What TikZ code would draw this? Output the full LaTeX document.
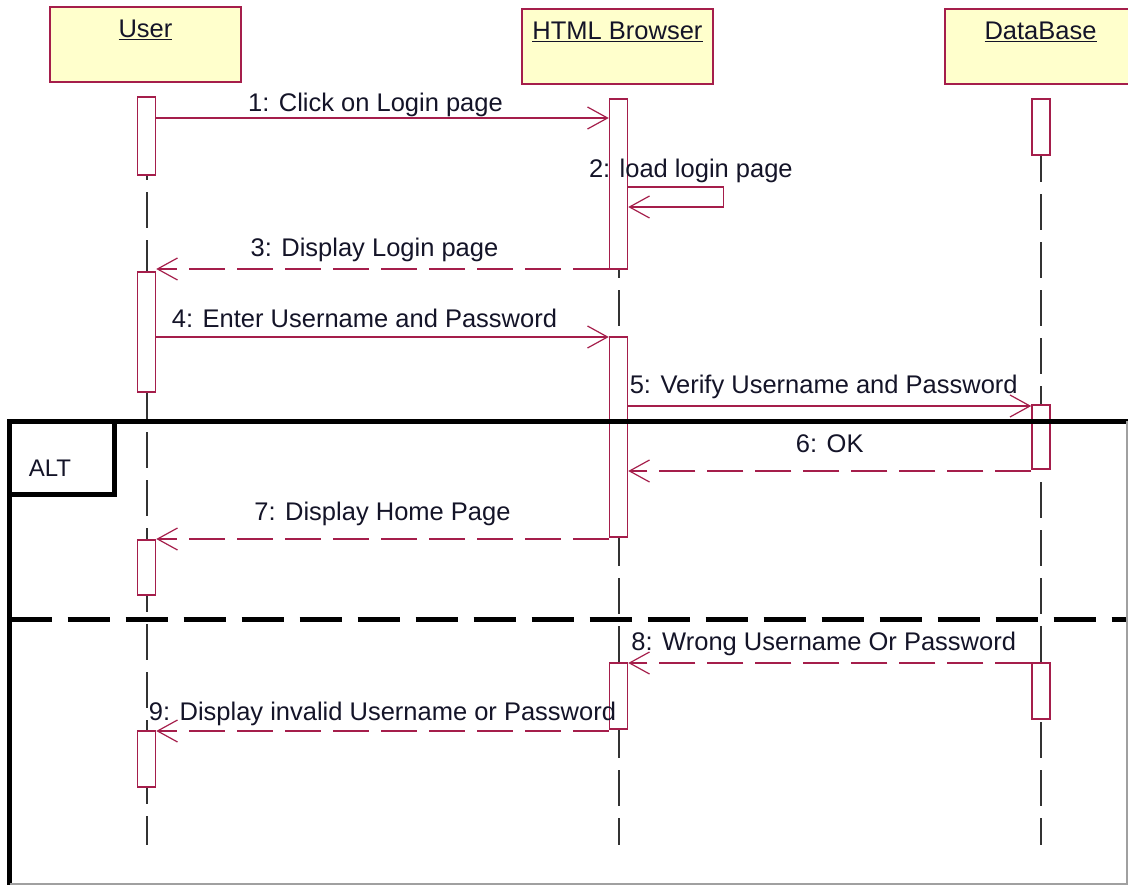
\documentclass[tikz,border=0pt]{standalone}
\usepackage{fontspec}
\setmainfont{Liberation Sans}
\usepackage{tikz}
\usetikzlibrary{positioning, arrows.meta, backgrounds}
\definecolor{lineColor}{RGB}{165, 30, 75}
\definecolor{headFill}{RGB}{255, 255, 204}
\definecolor{lifeColor}{RGB}{51, 51, 51}
\definecolor{textColor}{RGB}{20, 20, 40}
\definecolor{borderGray}{RGB}{160, 160, 160}
\tikzset{
    seq_head/.style={
        draw=lineColor,
        fill=headFill,
        line width=2pt,
        text=textColor,
        minimum width=191pt,
        inner xsep=0pt,
        inner ysep=5pt,
        text height=26pt,
        text depth=39pt,
        anchor=north
    },
    seq_bar/.style={
        draw=lineColor,
        fill=white,
        line width=1.5pt,
        minimum width=18pt,
        inner sep=0pt
    },
    seq_life/.style={
        draw=lifeColor,
        line width=2pt,
        dash pattern=on 36pt off 12pt
    },
    seq_call/.style={
        draw=lineColor,
        line width=1.5pt,
        -{Straight Barb[length=20pt, width=22pt, line width=1.2pt]}
    },
    seq_reply/.style={
        seq_call,
        dash pattern=on 36pt off 12pt
    },
    seq_text/.style={
        text=textColor,
        inner sep=0pt,
        text depth=0pt,
        above=10pt
    },
    alt_frame/.style={
        draw=black,
        line width=5pt
    }
}

\begin{document}
\begin{tikzpicture}[x=1pt, y=-1pt, font=\fontsize{25.5}{30}\selectfont]
    \useasboundingbox (0,0) rectangle (1128,885);

    % lifeline heads
    \node[seq_head] (user) at (145.5,6) {\underline{User}};
    \node[seq_head] (browser) at (617.5,8) {\underline{HTML Browser}};
    \node[seq_head] (db) at (1040.5,8) {\underline{DataBase}};

    % activation bars
    \node[seq_bar, minimum height=78pt] (u1) at (146.5,136) {};
    \node[seq_bar, minimum height=120pt] (u2) at (146.5,332) {};
    \node[seq_bar, minimum height=55pt] (u3) at (146.5,567.5) {};
    \node[seq_bar, minimum height=56pt] (u4) at (146.5,759) {};
    \node[seq_bar, minimum height=170pt] (b1) at (618.5,184) {};
    \node[seq_bar, minimum height=200pt] (b2) at (618.5,437) {};
    \node[seq_bar, minimum height=66pt] (b3) at (618.5,696) {};
    \node[seq_bar, minimum height=56pt] (d1) at (1041,127) {};
    \node[seq_bar, minimum height=64pt] (d2) at (1041,437) {};
    \node[seq_bar, minimum height=56pt] (d3) at (1041,691) {};

    % lifelines behind the bars
    \begin{scope}[on background layer]
        \draw[seq_life] (u1.north) -- (u1.north |- 0,845);
        \draw[seq_life] (b1.north) -- (b1.north |- 0,845);
        \draw[seq_life] (d1.north) -- (d1.north |- 0,845);
    \end{scope}

    % messages
    \draw[seq_call] (u1.east |- 0,118) -- node[seq_text, above=6pt, xshift=-7pt] {1: Click on Login page} (b1.west |- 0,118);
    \draw[seq_call] (b1.east |- 0,187)
        node[seq_text, above=9pt, anchor=base west, xshift=-40pt] {2: load login page}
        -- ++(95,0) -- ++(0,20) -- (b1.east |- 0,207);
    \draw[seq_reply] (b1.west |- 0,269) -- node[seq_text, above=12pt, xshift=-8pt] {3: Display Login page} (u2.east |- 0,269);
    \draw[seq_call] (u2.east |- 0,337) -- node[seq_text, above=9pt, xshift=-18pt] {4: Enter Username and Password} (b2.west |- 0,337);
    \draw[seq_call] (b2.east |- 0,406) -- node[seq_text, above=12pt, xshift=-6pt] {5: Verify Username and Password} (d2.west |- 0,406);
    \draw[seq_reply] (d2.west |- 0,471) -- node[seq_text, above=18pt] {6: OK} (b2.east |- 0,471);
    \draw[seq_reply] (b2.west |- 0,539) -- node[seq_text, above=18pt] {7: Display Home Page} (u3.east |- 0,539);
    \draw[seq_reply] (d3.west |- 0,663) -- node[seq_text, above=12pt, xshift=-6pt] {8: Wrong Username Or Password} (b3.east |- 0,663);
    \draw[seq_reply] (b3.west |- 0,731) -- node[seq_text, above=10pt] {9: Display invalid Username or Password} (u4.east |- 0,731);

    % alt fragment
    \draw[alt_frame] (9.5,885) -- (9.5,421.5) -- (1128,421.5);
    \draw[alt_frame] (9.5,494) -- (114.5,494) -- (114.5,421.5);
    \draw[alt_frame, dash pattern=on 42pt off 16pt] (9.5,619) -- (1128,619);
    \draw[draw=borderGray, line width=1.5pt] (1127,421.5) -- (1127,884) -- (9.5,884);
    \node[text=textColor, font=\fontsize{24}{28}\selectfont] (alt) at (50,468) {ALT};
\end{tikzpicture}
\end{document}
